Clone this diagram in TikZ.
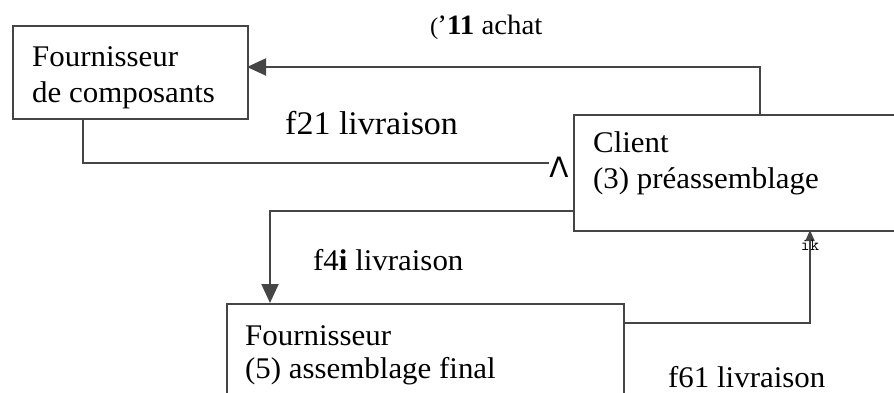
\documentclass[tikz,border=0pt]{standalone}
\usepackage{fontspec}
\setmainfont{Liberation Serif}[FakeStretch=1.03]
\newfontfamily\symfont{DejaVu Sans}
\usetikzlibrary{arrows.meta}
\definecolor{linegray}{HTML}{454545}
\tikzset{
  boxnode/.style={draw=linegray, line width=2pt, anchor=north west, inner sep=0pt},
  lbl/.style={anchor=base west, inner sep=0pt, font=\fontsize{30}{36}\selectfont, text=black},
  conn/.style={draw=linegray, line width=2pt},
  arr/.style={conn, -{Triangle[length=19pt,width=17pt]}},
  smallarr/.style={conn, -{Triangle[length=11pt,width=9pt]}},
}
\begin{document}
\begin{tikzpicture}[x=1pt,y=-1pt]
\useasboundingbox (0,0) rectangle (894,393);
\clip (0,0) rectangle (894,393);
% boxes
\node[boxnode, minimum width=235pt, minimum height=93pt] (b1) at (12,25) {};
\node[boxnode, minimum width=340pt, minimum height=116pt] (cl) at (573,114) {};
\node[boxnode, minimum width=397pt, minimum height=110pt] (b5) at (226,303) {};
% box texts
\node[lbl] (t1a) at (32,67) {Fournisseur};
\node[lbl] (t1b) at (32,103) {de composants};
\node[lbl] (tca) at (593,153) {Client};
\node[lbl] (tcb) at (593,188) {(3) préassemblage};
\node[lbl] (t5a) at (245,345) {Fournisseur};
\node[lbl] (t5b) at (245,378) {(5) assemblage final};
% connector coordinates
\coordinate (p11s) at (760,114);
\coordinate (p11e) at (247,67);
\coordinate (p21s) at (83,118);
\coordinate (p21e) at (549,163);
\coordinate (p41s) at (573,211);
\coordinate (p41e) at (270,303);
\coordinate (p61s) at (623,323);
\coordinate (p61e) at (810,230);
% connectors
\draw[arr] (p11s) |- (p11e);
\draw[conn] (p21s) |- (p21e);
\draw[arr] (p41s) -| (p41e);
\draw[smallarr] (p61s) -| (p61e);
% flow labels
\node[lbl, font=\fontsize{28}{36}\selectfont] (f11) at (430,35) {{\fontsize{24}{30}\selectfont(}\kern-1pt'\textbf{11} achat};
\node[lbl, font=\fontsize{33}{36}\selectfont] (f21) at (285,135) {f21 livraison};
\node[lbl] (f41) at (313,270) {f4\textbf{i} livraison};
\node[lbl] (f61) at (668,387) {f61 livraison};
\node[anchor=center, inner sep=0pt, font=\symfont\fontsize{28}{28}\selectfont] (lam) at (559,167) {Λ};
\node[anchor=base, inner sep=0pt, font=\ttfamily\fontsize{17}{17}\selectfont] (ik) at (810,250) {i\kern1pt k};
\end{tikzpicture}
\end{document}
